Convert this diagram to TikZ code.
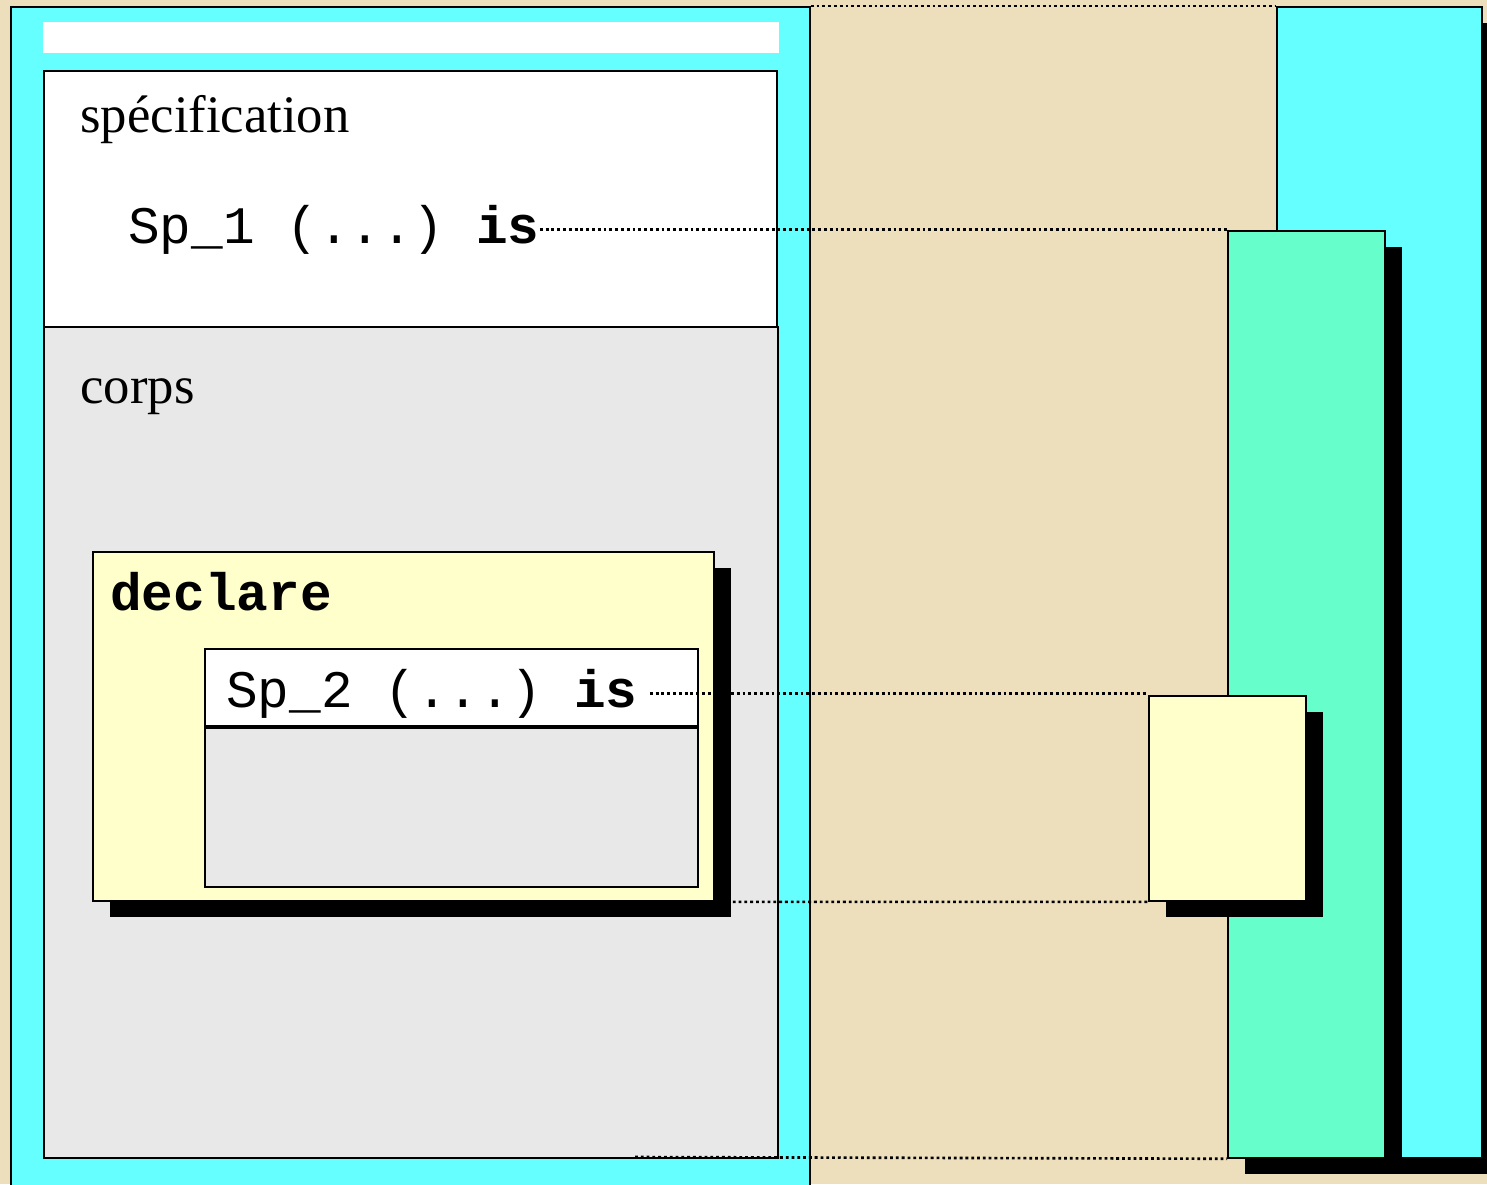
\documentclass[tikz,border=0pt]{standalone}
\usepackage{fontspec}
\setmainfont{Liberation Serif}
\setmonofont{Liberation Mono}
\usepackage{xcolor}
\usepackage{tikz}
\usetikzlibrary{shadows,positioning}

\definecolor{parchment}{RGB}{237,222,188}
\definecolor{aqua}{RGB}{102,255,255}
\definecolor{mint}{RGB}{102,255,204}
\definecolor{cream}{RGB}{255,255,204}
\definecolor{pale}{RGB}{232,232,232}

\begin{document}
\begin{tikzpicture}[x=0.02cm, y=-0.02cm,
  box/.style={rectangle, draw, line width=1.1pt, inner sep=0pt, anchor=north west},
  shadowed/.style={drop shadow={shadow xshift=0.34cm, shadow yshift=-0.32cm, fill=black, opacity=1}},
  txt/.style={inner sep=0pt, anchor=base west, font=\fontsize{30}{36}\selectfont},
  codetxt/.style={txt, font=\fontsize{30}{36}\selectfont\ttfamily},
  link/.style={line width=1.5pt, dash pattern=on 1.6pt off 1.7pt},
]
\useasboundingbox (0,0) rectangle (1487,1184);
\clip (0,0) rectangle (1487,1184);
\fill[parchment] (0,0) rectangle (1487,1184);

% Unite appelante (gauche)
\node[box, fill=aqua, minimum width=15.98cm, minimum height=23.9cm] (leftbox) at (10,6) {};
\node[rectangle, fill=white, inner sep=0pt, anchor=north west, minimum width=14.72cm, minimum height=0.62cm] (bar) at (43,22) {};
\node[box, fill=white, minimum width=14.66cm, minimum height=5.12cm] (spec) at (43,70) {};
\node[box, fill=pale, minimum width=14.68cm, minimum height=16.62cm] (corps) at (43,326) {};

% Bloc declare avec Sp_2
\node[box, shadowed, fill=cream, minimum width=12.42cm, minimum height=6.98cm] (declare) at (92,551) {};
\node[box, fill=white, minimum width=9.86cm, minimum height=1.54cm] (head) at (204,648) {};
\node[box, fill=pale, minimum width=9.86cm, minimum height=3.18cm] (body) at (head.south west) {};

% Piles a droite
\node[box, shadowed, fill=aqua, minimum width=4.1cm, minimum height=23.02cm] (rightbox) at (1276,6) {};
\node[box, shadowed, fill=mint, minimum width=3.14cm, minimum height=18.54cm] (greenbox) at (1227,230) {};
\node[box, shadowed, fill=cream, minimum width=3.14cm, minimum height=4.1cm] (smallbox) at (1148,695) {};

% Textes
\node[txt] (spectxt) at (80,132) {spécification};
\node[txt] (corpstxt) at (80,403) {corps};
\node[codetxt] (sp1) at (128,243) {Sp\_1 (...) \textbf{is}};
\node[codetxt] (decl) at (110,610) {\textbf{declare}};
\node[codetxt] (sp2) at (226,707) {Sp\_2 (...) \textbf{is}};

% Liens pointilles
\coordinate (foot) at (635,1157);
\draw[link] (leftbox.north east) -- (rightbox.north west);
\draw[link] (sp1.east) -- (sp1.east -| greenbox.west);
\draw[link] ([xshift=0.24cm]sp2.east) -- (sp2.east -| smallbox.west);
\draw[link] ([xshift=0.36cm]declare.south east) -- (smallbox.south west);
\draw[link] (foot) -- (greenbox.south west);
\end{tikzpicture}
\end{document}
